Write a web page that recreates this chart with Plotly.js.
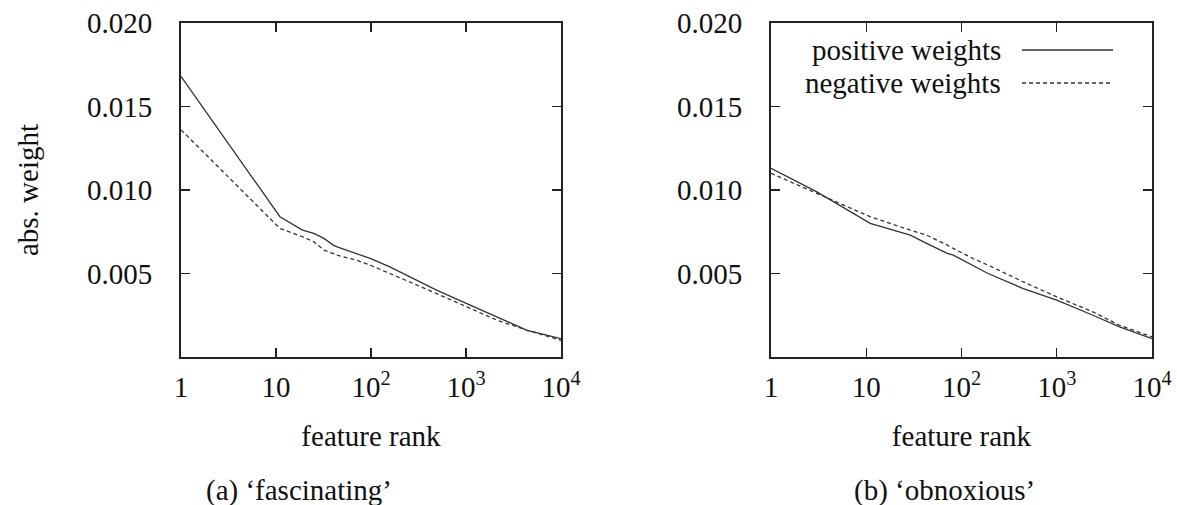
<!DOCTYPE html>
<html>
<head>
<meta charset="utf-8">
<script src="https://cdn.plot.ly/plotly-3.0.1.min.js"></script>
<style>html,body{margin:0;padding:0;background:#fff;}#chart{width:1177px;height:505px;}</style>
</head>
<body>
<div id="chart"></div>
<script>
// ---- data ----
const rankA = [1, 11, 19, 25, 32, 40, 44, 70, 98, 158, 257, 490, 1020, 2130, 4400, 10000];
const posA  = [0.0168, 0.0084, 0.0076, 0.0074, 0.0071, 0.0067, 0.0066, 0.0062, 0.0059, 0.0054, 0.0048, 0.0040, 0.0032, 0.0024, 0.0016, 0.0011];
const negA  = [0.0136, 0.0077, 0.0072, 0.0069, 0.0064, 0.0062, 0.0061, 0.0058, 0.0055, 0.0050, 0.0045, 0.0038, 0.0030, 0.0022, 0.0016, 0.0010];

const rankB = [1, 3, 11, 29, 43, 71, 82, 132, 190, 445, 1000, 2400, 4570, 10000];
const posB  = [0.0113, 0.0099, 0.0080, 0.0073, 0.0068, 0.0062, 0.0061, 0.0055, 0.0050, 0.0041, 0.0034, 0.0025, 0.0018, 0.0011];
const negB  = [0.0110, 0.0098, 0.0084, 0.0076, 0.0073, 0.0067, 0.0065, 0.0059, 0.0055, 0.0045, 0.0036, 0.0027, 0.0019, 0.0012];

const xTickVals = [1, 10, 100, 1000, 10000];
const xTickText = ['1', '10', '10<sup>2</sup>', '10<sup>3</sup>', '10<sup>4</sup>'];
const yTickVals = [0.005, 0.010, 0.015, 0.020];
const yTickText = ['0.005', '0.010', '0.015', '0.020'];
const seriesNames = ['positive weights', 'negative weights'];
const captions = ['(a) \u2018fascinating\u2019', '(b) \u2018obnoxious\u2019'];

// ---- styling ----
const W = 1177, H = 505;
const FONT = 'Liberation Serif';
const FS = 29;
const INK = '#222';
const LINE = '#333';
const px = v => v / W;
const py = v => 1 - v / H;

function line(x, y, name, dash, xa, ya) {
  return {x: x, y: y, name: name, type: 'scatter', mode: 'lines',
          xaxis: xa, yaxis: ya, showlegend: false,
          line: {color: LINE, width: 1.3, dash: dash}};
}

const traces = [
  line(rankA, posA, seriesNames[0], 'solid', 'x', 'y'),
  line(rankA, negA, seriesNames[1], '4px,3px', 'x', 'y'),
  line(rankB, posB, seriesNames[0], 'solid', 'x2', 'y2'),
  line(rankB, negB, seriesNames[1], '4px,3px', 'x2', 'y2')
];

function xAxis(dom, anchor) {
  return {domain: dom, anchor: anchor, type: 'log', range: [0, 4],
          tickmode: 'array', tickvals: xTickVals, ticktext: xTickText,
          ticks: 'inside', ticklen: 9, tickwidth: 1.3, tickcolor: INK,
          showline: true, linecolor: INK, linewidth: 2, mirror: 'ticks',
          showgrid: false, zeroline: false, ticklabelstandoff: 3,
          tickfont: {family: FONT, size: FS, color: '#111'},
          title: {text: 'feature rank', standoff: 24, font: {family: FONT, size: FS, color: '#111'}}};
}
function yAxis(dom, anchor, withTitle) {
  const a = {domain: dom, anchor: anchor, range: [0, 0.02],
          tickmode: 'array', tickvals: yTickVals, ticktext: yTickText,
          ticks: 'inside', ticklen: 9, tickwidth: 1.3, tickcolor: INK,
          showline: true, linecolor: INK, linewidth: 2, mirror: 'ticks',
          showgrid: false, zeroline: false, ticklabelstandoff: 21,
          tickfont: {family: FONT, size: FS, color: '#111'}};
  if (withTitle) a.title = {text: 'abs. weight', standoff: 40, font: {family: FONT, size: FS, color: '#111'}};
  return a;
}

const yDom = [py(357), py(23)];
const layout = {
  width: W, height: H,
  margin: {l: 0, r: 0, t: 0, b: 0},
  paper_bgcolor: '#fff', plot_bgcolor: '#fff',
  font: {family: FONT, size: FS, color: '#111'},
  showlegend: false,
  xaxis: xAxis([px(181), px(561)], 'y'),
  yaxis: yAxis(yDom, 'x', true),
  xaxis2: xAxis([px(771), px(1152)], 'y2'),
  yaxis2: yAxis(yDom, 'x2', false),
  annotations: [
    {text: captions[0], xref: 'paper', yref: 'paper', x: px(299), y: py(490),
     xanchor: 'center', yanchor: 'middle', showarrow: false, font: {family: FONT, size: FS, color: '#111'}},
    {text: captions[1], xref: 'paper', yref: 'paper', x: px(945), y: py(490),
     xanchor: 'center', yanchor: 'middle', showarrow: false, font: {family: FONT, size: FS, color: '#111'}},
    {text: seriesNames[0], xref: 'paper', yref: 'paper', x: px(1003), y: py(50),
     xanchor: 'right', yanchor: 'middle', showarrow: false, font: {family: FONT, size: FS, color: '#111'}},
    {text: seriesNames[1], xref: 'paper', yref: 'paper', x: px(1003), y: py(83),
     xanchor: 'right', yanchor: 'middle', showarrow: false, font: {family: FONT, size: FS, color: '#111'}}
  ],
  shapes: [
    {type: 'line', xref: 'paper', yref: 'paper', x0: px(1022), x1: px(1113), y0: py(50), y1: py(50),
     line: {color: LINE, width: 1.3}},
    {type: 'line', xref: 'paper', yref: 'paper', x0: px(1022), x1: px(1113), y0: py(83), y1: py(83),
     line: {color: LINE, width: 1.3, dash: '4px,3px'}}
  ]
};

Plotly.newPlot('chart', traces, layout, {staticPlot: true, displayModeBar: false});
</script>
</body>
</html>
